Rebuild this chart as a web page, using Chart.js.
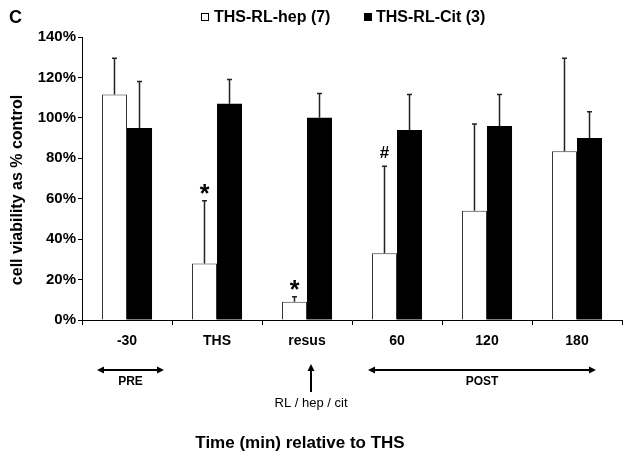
<!DOCTYPE html>
<html>
<head>
<meta charset="utf-8">
<title>cell viability</title>
<script src="https://cdn.jsdelivr.net/npm/chart.js@4.4.1/dist/chart.umd.min.js"></script>
<style>
  html, body { margin: 0; padding: 0; background: #fff; }
  canvas { display: block; }
</style>
</head>
<body>
<canvas id="viabilityChart" width="629" height="463"></canvas>
<script>
const categories = ["-30", "THS", "resus", "60", "120", "180"];
const hepValues = [111.5, 28, 9, 33, 54, 83.5];
const hepErrors = [18, 31, 2.5, 43, 43, 46];
const citValues = [95, 107, 100, 94, 96, 90];
const citErrors = [23, 12, 12, 17.5, 15.5, 13];
const hepMarkers = ["", "*", "*", "#", "", ""];
const yTicks = [0, 20, 40, 60, 80, 100, 120, 140];

const FONT = "'Liberation Sans', Arial, sans-serif";
Chart.defaults.font.family = FONT;
Chart.defaults.color = "#000";

function drawArrowHead(ctx, x, y, dx, dy) {
  // dx, dy: unit direction the tip points to
  const len = 7, half = 3.5;
  ctx.beginPath();
  ctx.moveTo(x, y);
  ctx.lineTo(x - dx * len - dy * half, y - dy * len + dx * half);
  ctx.lineTo(x - dx * len + dy * half, y - dy * len - dx * half);
  ctx.closePath();
  ctx.fill();
}

const errorBars = {
  id: "errorBars",
  afterDatasetsDraw(chart) {
    const { ctx } = chart;
    const yScale = chart.scales.y;
    const errs = [hepErrors, citErrors];
    ctx.save();
    ctx.strokeStyle = "#222";
    ctx.lineWidth = 1.5;
    chart.data.datasets.forEach((ds, d) => {
      chart.getDatasetMeta(d).data.forEach((bar, i) => {
        const top = yScale.getPixelForValue(ds.data[i] + errs[d][i]);
        ctx.beginPath();
        ctx.moveTo(bar.x, bar.y);
        ctx.lineTo(bar.x, top);
        ctx.moveTo(bar.x - 2.5, top);
        ctx.lineTo(bar.x + 2.5, top);
        ctx.stroke();
      });
    });

    // significance markers on the hep bars
    ctx.fillStyle = "#000";
    ctx.textAlign = "center";
    ctx.textBaseline = "alphabetic";
    chart.getDatasetMeta(0).data.forEach((bar, i) => {
      const m = hepMarkers[i];
      if (!m) return;
      const top = yScale.getPixelForValue(hepValues[i] + hepErrors[i]);
      if (m === "*") {
        ctx.font = "bold 25px " + FONT;
        ctx.fillText(m, bar.x, top + 1);
      } else {
        ctx.font = "bold 17px " + FONT;
        ctx.fillText(m, bar.x, top - 8);
      }
    });
    ctx.restore();
  }
};

const decorations = {
  id: "decorations",
  afterDraw(chart) {
    const { ctx } = chart;
    const x = chart.scales.x;
    ctx.save();
    ctx.fillStyle = "#000";
    ctx.strokeStyle = "#000";

    // panel letter
    ctx.font = "bold 18px " + FONT;
    ctx.textAlign = "left";
    ctx.textBaseline = "middle";
    ctx.fillText("C", 9, 18);

    // legend
    ctx.font = "bold 16px " + FONT;
    ctx.lineWidth = 1;
    ctx.strokeRect(201.5, 13.5, 7, 7);
    ctx.fillText("THS-RL-hep (7)", 214, 18);
    ctx.fillRect(364, 13, 8, 8);
    ctx.fillText("THS-RL-Cit (3)", 376, 18);

    // y title
    ctx.save();
    ctx.translate(18, 190);
    ctx.rotate(-Math.PI / 2);
    ctx.font = "bold 16px " + FONT;
    ctx.textAlign = "center";
    ctx.fillText("cell viability as % control", 0, 0);
    ctx.restore();

    // PRE / POST arrows
    ctx.lineWidth = 2;
    const arrowY = 370;
    const spans = [
      { from: x.getPixelForValue(0) - 30, to: x.getPixelForValue(0) + 37, label: "PRE" },
      { from: x.getPixelForValue(3) - 29, to: x.getPixelForValue(5) + 19, label: "POST" }
    ];
    ctx.font = "bold 12px " + FONT;
    ctx.textAlign = "center";
    spans.forEach((s) => {
      ctx.beginPath();
      ctx.moveTo(s.from + 4, arrowY);
      ctx.lineTo(s.to - 4, arrowY);
      ctx.stroke();
      drawArrowHead(ctx, s.from, arrowY, -1, 0);
      drawArrowHead(ctx, s.to, arrowY, 1, 0);
      ctx.fillText(s.label, (s.from + s.to) / 2, 382);
    });

    // resuscitation arrow
    const rx = x.getPixelForValue(2) + 4;
    ctx.beginPath();
    ctx.moveTo(rx, 392);
    ctx.lineTo(rx, 369);
    ctx.stroke();
    drawArrowHead(ctx, rx, 364, 0, -1);
    ctx.font = "13px " + FONT;
    ctx.fillText("RL / hep / cit", rx, 403);

    // x title
    ctx.font = "bold 17px " + FONT;
    ctx.fillText("Time (min) relative to THS", 300, 443);
    ctx.restore();
  }
};

new Chart(document.getElementById("viabilityChart"), {
  type: "bar",
  data: {
    labels: categories,
    datasets: [
      {
        label: "THS-RL-hep (7)",
        data: hepValues,
        backgroundColor: "#fff",
        borderColor: "#333",
        borderWidth: 1
      },
      {
        label: "THS-RL-Cit (3)",
        data: citValues,
        backgroundColor: "#000",
        borderWidth: 0
      }
    ]
  },
  options: {
    responsive: false,
    animation: false,
    categoryPercentage: 0.556,
    barPercentage: 1.0,
    layout: { padding: { top: 37, right: 7, left: 0, bottom: 0 } },
    plugins: {
      legend: { display: false },
      tooltip: { enabled: false }
    },
    scales: {
      x: {
        grid: { offset: true, drawOnChartArea: false, tickLength: 5, color: "#000" },
        border: { color: "#000", width: 1 },
        ticks: { font: { weight: "bold", size: 14 }, padding: 8, color: "#000" },
        afterFit: (scale) => { scale.height = 143; }
      },
      y: {
        min: 0,
        max: 140,
        afterBuildTicks: (scale) => { scale.ticks = yTicks.map((v) => ({ value: v })); },
        grid: { drawOnChartArea: false, tickLength: 4, color: "#000" },
        border: { color: "#000", width: 1 },
        ticks: {
          font: { weight: "bold", size: 15 },
          padding: 2,
          color: "#000",
          callback: (v) => v + "%"
        },
        afterFit: (scale) => { scale.width = 82; }
      }
    }
  },
  plugins: [errorBars, decorations]
});
</script>
</body>
</html>
